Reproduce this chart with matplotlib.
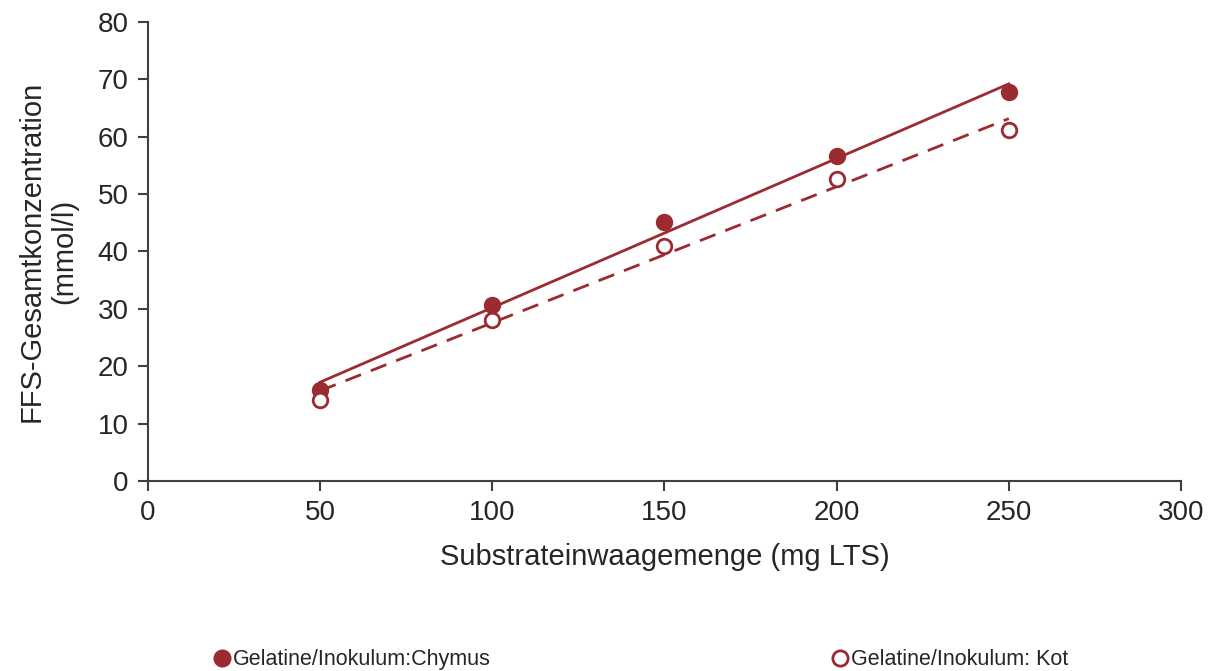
import matplotlib.pyplot as plt
import numpy as np
from matplotlib.lines import Line2D

plt.rcParams['font.family'] = ['Liberation Sans', 'DejaVu Sans']

# data
x = [50, 100, 150, 200, 250]
chymus = [15.8, 30.7, 45.1, 56.7, 67.8]
kot = [14.2, 28.1, 41.0, 52.7, 61.2]
labels = ['Gelatine/Inokulum:Chymus', 'Gelatine/Inokulum: Kot']

red = '#9b2a31'
grey = '#404040'
txt = '#262626'

fig = plt.figure(figsize=(12.16, 6.71), dpi=100)
ax = fig.add_axes([0.1217, 0.2832, 0.8495, 0.684])

xs = np.array(x, dtype=float)
for ys, ls, face in [(chymus, '-', red), (kot, (0, (6, 3.8)), 'white')]:
    # linear trend line
    m, b = np.polyfit(xs, ys, 1)
    ax.plot([xs[0], xs[-1]], [m * xs[0] + b, m * xs[-1] + b], color=red,
            lw=2, ls=ls, zorder=2)
    ax.plot(xs, ys, 'o', ms=10.5, mfc=face, mec=red, mew=2, ls='none', zorder=3)

ax.set_xlim(0, 300)
ax.set_ylim(0, 80)
ax.set_xticks(range(0, 301, 50))
ax.set_yticks(range(0, 81, 10))
for s in ['top', 'right']:
    ax.spines[s].set_visible(False)
for s in ['left', 'bottom']:
    ax.spines[s].set_color(grey)
    ax.spines[s].set_linewidth(1.5)
ax.tick_params(direction='out', length=7, width=1.5, color=grey,
               labelsize=20, labelcolor=txt, pad=7)
ax.set_xlabel('Substrateinwaagemenge (mg LTS)', fontsize=21, color=txt, labelpad=12)
ax.set_ylabel('FFS-Gesamtkonzentration\n(mmol/l)', fontsize=21, color=txt, labelpad=14)

h1 = Line2D([], [], marker='o', ls='none', ms=11, mfc=red, mec=red, mew=2)
h2 = Line2D([], [], marker='o', ls='none', ms=11, mfc='white', mec=red, mew=2)
leg1 = fig.legend([h1], [labels[0]], loc='center left', bbox_to_anchor=(0.159, 0.017),
                  frameon=False, fontsize=15.5, handletextpad=0.05, handlelength=0.9)
leg2 = fig.legend([h2], [labels[1]], loc='center left', bbox_to_anchor=(0.667, 0.017),
                  frameon=False, fontsize=15.5, handletextpad=0.05, handlelength=0.9)
for leg in (leg1, leg2):
    for t in leg.get_texts():
        t.set_color(txt)

fig.savefig('out.png', dpi=100)
